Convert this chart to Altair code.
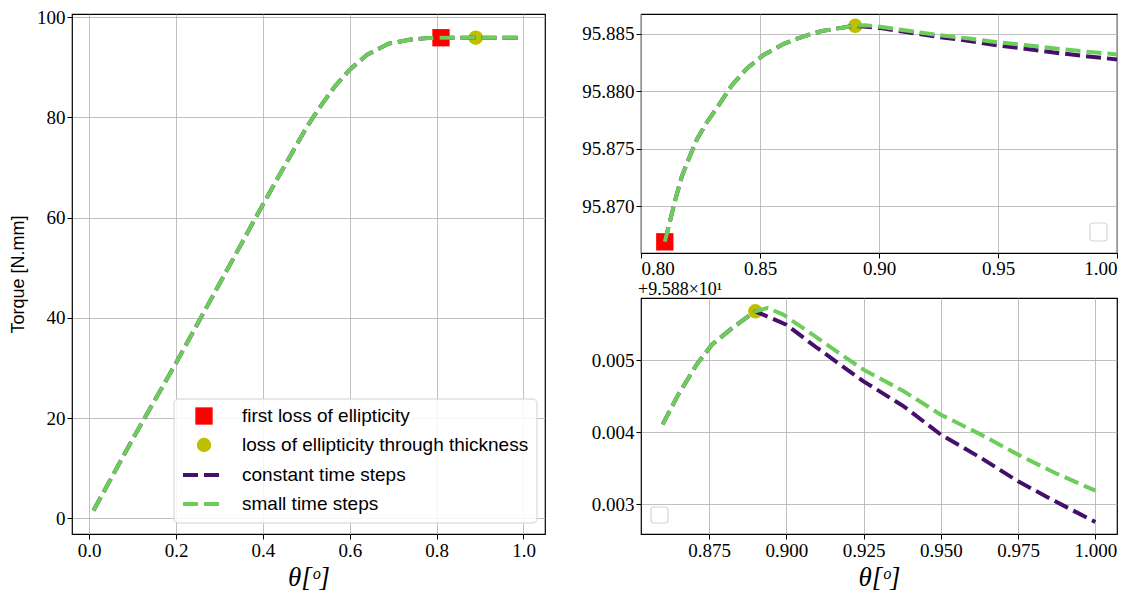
import altair as alt
import pandas as pd

# ---------------- data ----------------
# part shared by both simulations (curves coincide up to the peak)
theta_shared = [0.01, 0.1, 0.2, 0.3, 0.4, 0.45, 0.5, 0.53, 0.566, 0.6, 0.64, 0.69,
                0.74, 0.78, 0.81, 0.8123, 0.8144, 0.8172, 0.82, 0.8235, 0.8277, 0.8326,
                0.8382, 0.8445, 0.8516, 0.86, 0.865, 0.871, 0.876, 0.882, 0.887, 0.89]
torque_shared = [1.6, 15.8, 31.0, 46.8, 62.6, 70.3, 77.9, 81.9, 86.2, 89.5, 92.5, 94.7,
                 95.5, 95.80, 95.86693, 95.86882, 95.87058, 95.87263, 95.87409, 95.87584,
                 95.87731, 95.87877, 95.88053, 95.88198, 95.88316, 95.88411, 95.88452,
                 95.88494, 95.88522, 95.88543, 95.88559, 95.88568]

# small time steps after the peak
theta_small_tail = [0.894, 0.899, 0.907, 0.917, 0.925, 0.938, 0.95, 0.963, 0.975, 0.987, 1.0]
torque_small_tail = [95.885727, 95.885634, 95.885403, 95.885102, 95.88487, 95.88457,
                     95.884245, 95.883968, 95.88369, 95.883435, 95.88319]

# constant time steps after the peak
theta_const_tail = [0.9, 0.91, 0.925, 0.938, 0.95, 0.963, 0.975, 0.987, 1.0]
torque_const_tail = [95.885495, 95.885171, 95.884708, 95.884361, 95.883968, 95.883644,
                     95.883319, 95.883042, 95.882755]

series_names = ["constant time steps", "small time steps"]
series_colors = ["#45106b", "#6ccd5a"]

marker_names = ["first loss of ellipticity", "loss of ellipticity through thickness"]
marker_theta = [0.81, 0.89]
marker_torque = [95.86693, 95.88568]
marker_colors = ["#ff0000", "#bfbf00"]
marker_shapes = ["square", "circle"]

OFFSET = 95.88
offset_label = "+9.588×10¹"

left_xticks = [0.0, 0.2, 0.4, 0.6, 0.8, 1.0]
left_yticks = [0, 20, 40, 60, 80, 100]
top_xticks = [0.80, 0.85, 0.90, 0.95, 1.00]
top_yticks = [95.870, 95.875, 95.880, 95.885]
bot_xticks = [0.875, 0.900, 0.925, 0.950, 0.975, 1.000]
bot_yticks = [0.003, 0.004, 0.005]

# ---------------- tables ----------------
rows = []
for t, v in zip(theta_shared + theta_const_tail, torque_shared + torque_const_tail):
    rows.append({"theta": t, "torque": v, "series": series_names[0]})
for t, v in zip(theta_shared + theta_small_tail, torque_shared + torque_small_tail):
    rows.append({"theta": t, "torque": v, "series": series_names[1]})
df = pd.DataFrame(rows)
df["off"] = df["torque"] - OFFSET

mk = pd.DataFrame({"name": marker_names, "theta": marker_theta, "torque": marker_torque,
                   "color": marker_colors, "shape": marker_shapes})
mk["off"] = mk["torque"] - OFFSET

SERIF = "Liberation Serif, DejaVu Serif, serif"
SANS = "Liberation Sans, Arial, sans-serif"
XTITLE = "θ[ᵒ]"
LW = 4
DASH = [15, 6]
LFS = 19
RW = 476


def lines(data, xs, ys):
    layers = []
    for name, col in zip(series_names, series_colors):
        layers.append(
            alt.Chart(data).transform_filter(alt.datum.series == name)
            .mark_line(color=col, strokeWidth=LW, strokeDash=DASH, clip=True)
            .encode(x=xs, y=ys, order="theta:Q")
        )
    return layers


def markers(data, xs, ys, names):
    layers = []
    for name, col, shp, size in zip(marker_names, marker_colors, marker_shapes, [300, 210]):
        if name not in names:
            continue
        layers.append(
            alt.Chart(data).transform_filter(alt.datum.name == name)
            .mark_point(shape=shp, filled=True, color=col, opacity=1, size=size)
            .encode(x=xs, y=ys)
        )
    return layers


def ax(values, fmt, title=None, **kw):
    return alt.Axis(values=values, format=fmt, title=title, labelFont=SERIF,
                    labelFontSize=LFS, titleFont=SERIF, **kw)


# ---------------- left panel ----------------
lx = alt.X("theta:Q", scale=alt.Scale(domain=[-0.0395, 1.0495], nice=False, zero=False),
           axis=ax(left_xticks, ".1f", XTITLE))
ly = alt.Y("torque:Q", scale=alt.Scale(domain=[-3.1, 100.6], nice=False, zero=False),
           axis=alt.Axis(values=left_yticks, format="d", title="Torque [N.mm]",
                         labelFont=SERIF, labelFontSize=LFS,
                         titleFont=SANS, titleFontSize=18, titleFontStyle="normal",
                         titlePadding=9))

# legend (drawn manually)
LBX, LBY = 102, 385
leg_box = alt.Chart(mk).transform_filter(alt.datum.name == marker_names[0]).mark_rect(
    fill="white", fillOpacity=0.85, stroke="#d0d0d0", strokeWidth=1, cornerRadius=4).encode(
    x=alt.value(LBX), x2=alt.value(LBX + 363), y=alt.value(LBY), y2=alt.value(LBY + 124))
leg_layers = [leg_box]
row_y = [LBY + 17, LBY + 46, LBY + 76, LBY + 105]
leg_labels = marker_names + series_names
for i in range(2):
    leg_layers.append(
        alt.Chart(mk).transform_filter(alt.datum.name == marker_names[i])
        .mark_point(shape=marker_shapes[i], filled=True, color=marker_colors[i],
                    opacity=1, size=[300, 210][i])
        .encode(x=alt.value(LBX + 30), y=alt.value(row_y[i]))
    )
for j in range(2):
    leg_layers.append(
        alt.Chart(mk).transform_filter(alt.datum.name == marker_names[0])
        .mark_rule(color=series_colors[j], strokeWidth=LW, strokeDash=DASH)
        .encode(x=alt.value(LBX + 9), x2=alt.value(LBX + 50), y=alt.value(row_y[2 + j]))
    )
for i, lab in enumerate(leg_labels):
    leg_layers.append(
        alt.Chart(mk).transform_filter(alt.datum.name == marker_names[0])
        .mark_text(text=lab, align="left", baseline="middle", font=SANS, fontSize=19,
                   color="black")
        .encode(x=alt.value(LBX + 68), y=alt.value(row_y[i]))
    )

left = alt.layer(
    *markers(mk, lx, ly, marker_names), *lines(df, lx, ly), *leg_layers
).properties(width=473, height=520)

# ---------------- top right panel ----------------
df_top = df[df["theta"] >= 0.81]
tx = alt.X("theta:Q", scale=alt.Scale(domain=[0.8, 1.0], nice=False, zero=False),
           axis=ax(top_xticks, ".2f", labelPadding=1))
ty = alt.Y("torque:Q", scale=alt.Scale(domain=[95.86596, 95.8867], nice=False, zero=False),
           axis=ax(top_yticks, ".3f"))
empty_top = alt.Chart(mk).transform_filter(alt.datum.name == marker_names[0]).mark_rect(
    fill="white", stroke="#d6d6d6", strokeWidth=1.2, cornerRadius=3).encode(
    x=alt.value(RW - 27), x2=alt.value(RW - 10), y=alt.value(209), y2=alt.value(227))
top = alt.layer(
    *markers(mk, tx, ty, marker_names), *lines(df_top, tx, ty), empty_top
).properties(width=RW, height=239)

# ---------------- bottom right panel ----------------
df_bot = df[df["theta"] >= 0.86]
bx = alt.X("theta:Q", scale=alt.Scale(domain=[0.853, 1.007], nice=False, zero=False),
           axis=ax(bot_xticks, ".3f", XTITLE))
by = alt.Y("off:Q", scale=alt.Scale(domain=[0.002588, 0.005865], nice=False, zero=False),
           axis=ax(bot_yticks, ".3f"))
empty_bot = alt.Chart(mk).transform_filter(alt.datum.name == marker_names[0]).mark_rect(
    fill="white", stroke="#d6d6d6", strokeWidth=1.2, cornerRadius=3).encode(
    x=alt.value(10), x2=alt.value(27), y=alt.value(209), y2=alt.value(225))
off_text = alt.Chart(mk).transform_filter(alt.datum.name == marker_names[0]).mark_text(
    text=offset_label, align="left", baseline="alphabetic", font=SERIF, fontSize=18,
    color="black").encode(x=alt.value(-3), y=alt.value(-3))
bottom = alt.layer(
    *markers(mk, bx, by, [marker_names[1]]), *lines(df_bot, bx, by), empty_bot, off_text
).properties(width=RW, height=236)

right = alt.vconcat(top, bottom, spacing=45, bounds="flush")
chart = alt.hconcat(left, right, spacing=96, bounds="flush").configure(
    padding={"left": 0, "top": -1, "right": 0, "bottom": 0}
).configure_view(
    stroke="black", strokeWidth=1.2
).configure_axis(
    grid=True, gridColor="#b0b0b0", gridWidth=0.8, domain=False,
    tickColor="black", tickSize=5, tickWidth=1,
    labelColor="black", labelPadding=2,
    titleFontSize=27, titleFontWeight="normal", titleFontStyle="italic",
    titleColor="black", titlePadding=4
)

chart.save("out.html", embed_options={"renderer": "svg", "actions": False})
